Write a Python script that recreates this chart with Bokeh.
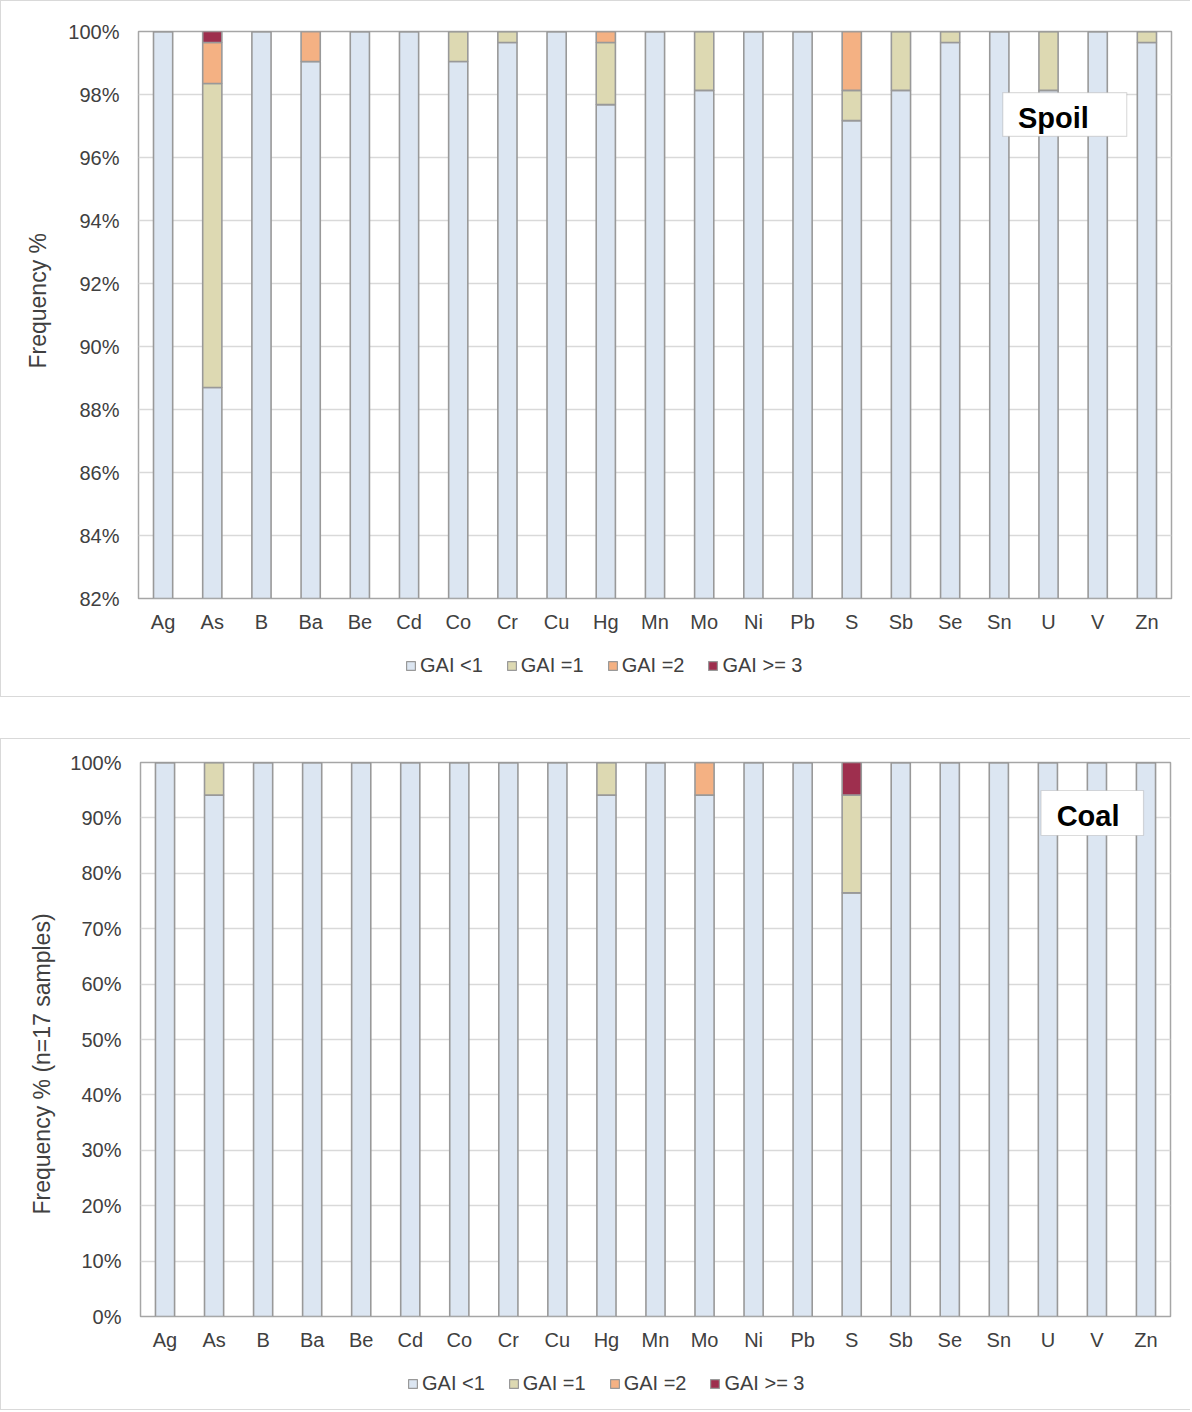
from bokeh.plotting import figure
from bokeh.models import (FactorRange, Legend, LegendItem, Label, FixedTicker,
                          PrintfTickFormatter, Spacer, BoxAnnotation, Title)
from bokeh.embed import file_html
from bokeh.resources import INLINE

elements = ["Ag", "As", "B", "Ba", "Be", "Cd", "Co", "Cr", "Cu", "Hg", "Mn",
            "Mo", "Ni", "Pb", "S", "Sb", "Se", "Sn", "U", "V", "Zn"]
series_names = ["GAI <1", "GAI =1", "GAI =2", "GAI >= 3"]

# Spoil (frequency %)
spoil_lt1 = [100, 88.70, 100, 99.05, 100, 100, 99.05, 99.65, 100, 97.68, 100,
             98.13, 100, 100, 97.17, 98.13, 99.65, 100, 98.13, 100, 99.65]
spoil_eq1 = [0, 9.65, 0, 0, 0, 0, 0.95, 0.35, 0, 1.97, 0,
             1.87, 0, 0, 0.96, 1.87, 0.35, 0, 1.87, 0, 0.35]
spoil_eq2 = [0, 1.30, 0, 0.95, 0, 0, 0, 0, 0, 0.35, 0,
             0, 0, 0, 1.87, 0, 0, 0, 0, 0, 0]
spoil_ge3 = [0, 0.35, 0, 0, 0, 0, 0, 0, 0, 0, 0,
             0, 0, 0, 0, 0, 0, 0, 0, 0, 0]

# Coal (frequency %, n=17 samples)
coal_lt1 = [100, 94.12, 100, 100, 100, 100, 100, 100, 100, 94.12, 100,
            94.12, 100, 100, 76.47, 100, 100, 100, 100, 100, 100]
coal_eq1 = [0, 5.88, 0, 0, 0, 0, 0, 0, 0, 5.88, 0,
            0, 0, 0, 17.65, 0, 0, 0, 0, 0, 0]
coal_eq2 = [0, 0, 0, 0, 0, 0, 0, 0, 0, 0, 0,
            5.88, 0, 0, 0, 0, 0, 0, 0, 0, 0]
coal_ge3 = [0, 0, 0, 0, 0, 0, 0, 0, 0, 0, 0,
            0, 0, 0, 5.88, 0, 0, 0, 0, 0, 0]

spoil_ticks = [82, 84, 86, 88, 90, 92, 94, 96, 98, 100]
coal_ticks = [0, 10, 20, 30, 40, 50, 60, 70, 80, 90, 100]

colors = ["#DCE6F2", "#DDD9B2", "#F4B183", "#9E2F4E"]
FONT = "Liberation Sans"
TXT = "#404040"
EDGE = "#999999"
BORDER = "1px solid #D9D9D9"


def make_chart(vals, y_start, ticks, ylabel, ylabel_offset, ylabel_standoff, tag,
               height, frame_top, frame_bottom, left, right, tag_box, tag_xy):
    keys = ["lt1", "eq1", "eq2", "ge3"]
    data = {"el": elements}
    for k, v in zip(keys, vals):
        data[k] = v
    p = figure(x_range=FactorRange(*elements), y_range=(y_start, 100),
               width=1190, height=height, output_backend="svg",
               toolbar_location=None, min_border_left=left,
               min_border_right=right, min_border_top=frame_top,
               min_border_bottom=frame_bottom)
    p.styles = {"border-top": BORDER, "border-left": BORDER}
    p.vbar_stack(keys, x="el", width=0.39, source=data, color=colors,
                 line_color=EDGE, line_width=1.6)
    p.outline_line_color = "#A6A6A6"
    p.outline_line_width = 1.5
    p.xgrid.grid_line_color = None
    p.ygrid.grid_line_color = "#D9D9D9"
    p.ygrid.grid_line_width = 1.3
    p.yaxis.ticker = FixedTicker(ticks=ticks)
    p.yaxis.formatter = PrintfTickFormatter(format="%d%%")
    for ax in (p.xaxis[0], p.yaxis[0]):
        ax.axis_line_color = None
        ax.major_tick_line_color = None
        ax.minor_tick_line_color = None
        ax.major_label_text_font = FONT
        ax.major_label_text_font_size = "20px"
        ax.major_label_text_color = TXT
    p.xaxis.major_label_standoff = 6
    p.yaxis.major_label_standoff = 13
    p.add_layout(Title(text=ylabel, align="left", offset=ylabel_offset,
                       text_font=FONT, text_font_style="normal",
                       text_font_size="23px", text_color=TXT,
                       standoff=ylabel_standoff), "left")
    l, r_, b, t = tag_box
    p.add_layout(BoxAnnotation(left=l, right=r_, bottom=b, top=t,
                               fill_color="white", fill_alpha=1,
                               line_color="#8C8C8C", line_width=1.2, level="overlay"))
    p.add_layout(Label(x=tag_xy[0], y=tag_xy[1], text=tag, text_font=FONT,
                       text_font_style="bold", text_font_size="29px",
                       text_color="#000000", text_align="center",
                       text_baseline="middle", level="overlay"))
    return p


def make_legend(height, loc):
    lf = figure(width=1190, height=height, output_backend="svg",
                toolbar_location=None, x_axis_location=None, y_axis_location=None,
                min_border=0, x_range=(0, 1), y_range=(0, 1))
    lf.styles = {"border-left": BORDER, "border-bottom": BORDER}
    lf.outline_line_color = None
    lf.grid.grid_line_color = None
    # swatch-only renderers, placed outside the visible range
    rs = [lf.vbar(x=[5], top=[6], bottom=[5], width=0.4, fill_color=c,
                  line_color=EDGE, line_width=1.2) for c in colors]
    items = [LegendItem(label=n, renderers=[r]) for n, r in zip(series_names, rs)]
    lf.add_layout(Legend(items=items, orientation="horizontal", location=loc,
                         label_text_font=FONT, label_text_font_size="20px",
                         label_text_color=TXT, glyph_width=11, glyph_height=11,
                         label_standoff=4, spacing=23, border_line_color=None,
                         background_fill_alpha=0, padding=0, margin=0))
    return lf


p1 = make_chart([spoil_lt1, spoil_eq1, spoil_eq2, spoil_ge3], 82, spoil_ticks,
                "Frequency %", 230, 30, "Spoil", 640, 30, 43, 137, 20,
                (17.57, 20.09, 96.67, 98.06), (18.60, 97.24))
l1 = make_legend(57, (404, 20))
p2 = make_chart([coal_lt1, coal_eq1, coal_eq2, coal_ge3], 0, coal_ticks,
                "Frequency % (n=17 samples)", 102, 26, "Coal", 620, 23, 43, 139, 21,
                (18.36, 20.45, 86.82, 94.95), (19.32, 90.43))
l2 = make_legend(52, (406, 15))

open("out.html", "w").write(file_html([p1, l1, Spacer(width=10, height=41), p2, l2],
                                      INLINE))
